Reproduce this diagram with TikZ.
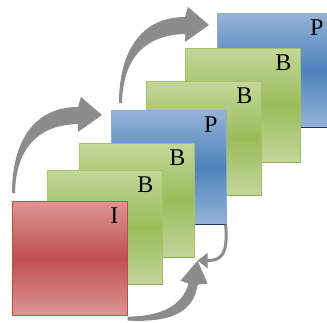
\documentclass[tikz,border=0pt]{standalone}
\usepackage{fontspec}
\setmainfont{Liberation Serif}
\usetikzlibrary{arrows.meta,calc}

\definecolor{lightI}{HTML}{DA9694}
\definecolor{darkI}{HTML}{C0504D}
\definecolor{edgeI}{HTML}{B9504D}
\definecolor{baseI}{HTML}{B9504D}
\definecolor{lightB}{HTML}{C4D79B}
\definecolor{darkB}{HTML}{9BBB59}
\definecolor{edgeB}{HTML}{A3C26A}
\definecolor{baseB}{HTML}{8FAA55}
\definecolor{lightP}{HTML}{95B3D7}
\definecolor{darkP}{HTML}{4F81BD}
\definecolor{edgeP}{HTML}{8EADD4}
\definecolor{baseP}{HTML}{1F3A60}
\definecolor{arrowgray}{HTML}{8C8C8C}

\begin{document}
\begin{tikzpicture}[x=1pt, y=-1pt,
    framebox/.style={anchor=north west, inner sep=0pt, minimum width=115pt, minimum height=114pt, line width=0.6pt},
    framelabel/.style={anchor=north east, inner sep=0pt, font=\fontsize{24}{26}\selectfont},
    swoop/.pic={
        \fill[arrowgray] (-1,0) .. controls (-1,-50) and (20,-86) .. (65,-86) -- (68,-96) -- (89,-78)
            -- (65,-61) -- (65,-69) .. controls (25,-68) and (3,-45) .. (2,0) -- cycle;
    }]
    \useasboundingbox (0,0) rectangle (327,322);
    \clip (0,0) rectangle (327,322);

    % Draw the frames from back to front and letter them
    \foreach \name/\x/\y/\lab in {p2/217/13/P, b4/185/48/B, b3/146/81/B, p1/111/110/P, b2/79/143/B, b1/47/170/B, i/12/201/I} {
        \node[framebox, top color=light\lab, bottom color=light\lab, middle color=dark\lab, draw=edge\lab] (\name) at (\x,\y) {};
        \draw[base\lab, line width=1.2pt] (\name.south west) -- (\name.south east);
        \node[framelabel] (\name-lab) at ($(\name.north east)+(-9,7)$) {\lab};
    }

    % Big arrows over the top
    \pic at ($(i.north west)+(1,-8)$) {swoop};
    \pic at ($(p1.north west)+(9,-7)$) {swoop};

    % Arrows meeting below
    \coordinate (meet) at ($(i.south east)+(70,-55)$);
    \begin{scope}[shift={(i.south east)}]
        \fill[arrowgray] (0,5) .. controls (43,7) and (66,-3) .. (70,-31) -- (80,-32) -- (70,-55)
            -- (53,-35) -- (61,-32) .. controls (55,-10) and (33,1) .. (0,1) -- cycle;
    \end{scope}
    \draw[arrowgray, line width=3pt, -{Triangle[length=10pt, width=15pt]}] ([xshift=-1pt]p1.south east) .. controls +(3,32) and +(22,0) .. (meet);
\end{tikzpicture}
\end{document}
